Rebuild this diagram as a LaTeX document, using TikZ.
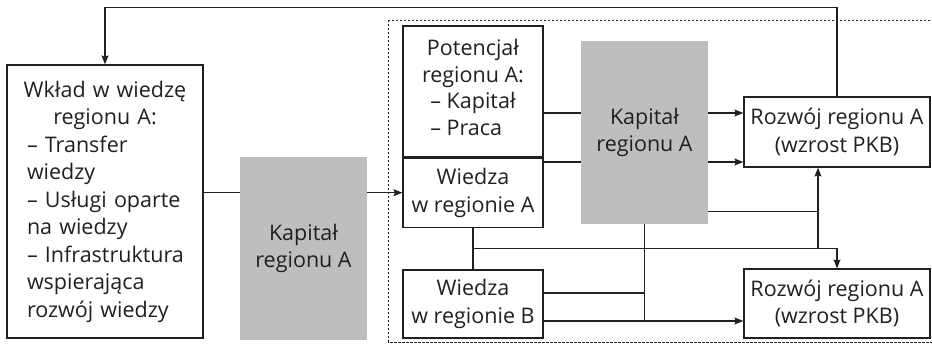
\documentclass[tikz,border=0pt]{standalone}
\usepackage{fontspec}
\setmainfont{Open Sans}
\usetikzlibrary{positioning, arrows.meta, calc}
\definecolor{ink}{HTML}{231F20}
\definecolor{capgray}{RGB}{189,190,192}
\pgfdeclarelayer{background}
\pgfsetlayers{background,main}
\tikzset{node distance=0pt, % boxes in the right part touch each other
every node/.style={ % text of all boxes
font=\fontsize{21.5}{27.5}\selectfont,
text=ink},
box/.style={ % white framed boxes
draw=ink, line width=1.2pt,
inner sep=0pt, minimum width=140pt, align=center},
capital/.style={ % grey capital blocks, drawn over the lines
fill=capgray, inner sep=0pt,
minimum width=127pt, minimum height=183pt, align=center},
link/.style={ % connectors
draw=ink, line width=1.2pt,
>={Stealth[length=9pt,width=7pt,inset=1.5pt]}}}

\begin{document}
\begin{tikzpicture}[x=1pt, y=-1pt]
    \useasboundingbox (0,0) rectangle (932,344);

    % region A frame
    \draw[ink, line width=0.8pt, dash pattern=on 2.5pt off 1.5pt] (388,20) rectangle (945,342);

    \node[box, minimum width=196pt, minimum height=273pt, text width=170pt, align=left] (wklad) at (105,201.5)
        {{\centering Wkład w wiedzę\\regionu A:\par}
        \hspace*{7pt}– Transfer\\\hspace*{7pt}wiedzy\\\hspace*{7pt}– Usługi oparte\\\hspace*{7pt}na wiedzy\\
        \hspace*{7pt}– Infrastruktura\\\hspace*{7pt}wspierająca\\\hspace*{7pt}rozwój wiedzy};
    \node[capital] (kapA) at (303.5,248.5) {Kapitał\\regionu A};

    \node[box, minimum height=131pt] (pot) at (473,91.5)
        {Potencjał\\regionu A:\\\begin{tabular}{@{}l@{}}– Kapitał\\– Praca\end{tabular}};
    \node[box, minimum height=69pt, below=of pot] (wA) {Wiedza\\w regionie A};
    \node[box, minimum height=68pt] (wB) at (473,304) {Wiedza\\w regionie B};
    \node[capital] (kapB) at (644.5,132.5) {Kapitał\\regionu A};

    \node[box, minimum width=186pt, minimum height=70pt] (rozA) at (837,132) {Rozwój regionu A\\(wzrost PKB)};
    \node[box, minimum width=186pt, minimum height=69pt] (rozB) at (837,303.5) {Rozwój regionu A\\(wzrost PKB)};

    \coordinate (inA1) at ([yshift=19pt]rozA.west);
    \coordinate (inA2) at ([yshift=-30pt]rozA.west);
    \coordinate (upA) at ([xshift=-19pt]rozA.south);
    \coordinate (j1) at ($(wA.south)!.5!(wB.north)$);
    \coordinate (j2) at ([yshift=13pt]kapB.south);
    \coordinate (outB1) at ([yshift=11pt]wB.east);
    \coordinate (outB2) at ([yshift=-17pt]wB.east);

    \begin{pgfonlayer}{background}
    \draw[link, ->] (wklad.east |- wA.west) -- (wA.west);
    \draw[link, ->] (rozA.north) -- ++(0,-89) -| (wklad.north);
    \draw[link, ->] (pot.east |- inA1) -- (inA1);
    \draw[link, ->] (wA.east |- inA2) -- (inA2);
    \draw[link] (wA.south) -- (wB.north);
    \draw[link, ->] (j1) -| (rozB.north);
    \draw[link, ->] (j1 -| upA) -- (upA);
    \draw[link] (outB1) -- (outB1 -| kapB.south);
    \draw[link, ->] (outB2) -- (outB2 -| rozB.west);
    \draw[link] (outB2 -| kapB.south) -- (j2) -- (j2 -| upA);
    \end{pgfonlayer}

\end{tikzpicture}
\end{document}
